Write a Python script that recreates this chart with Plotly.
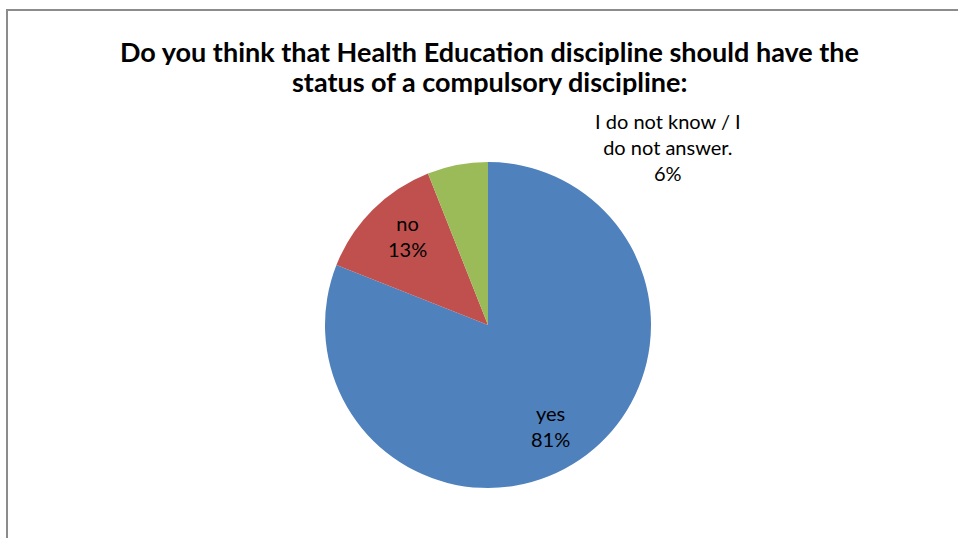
import plotly.graph_objects as go

labels = ["yes", "no", "I do not know / I do not answer."]
values = [81, 13, 6]
colors = ["#4F81BD", "#C0504D", "#9BBB59"]
title_lines = ["Do you think that Health Education discipline should have the",
               "status of a compulsory discipline:"]

W, H = 958, 538
cx, cy, r = 488, 325, 163

fig = go.Figure(go.Pie(
    labels=labels, values=values, sort=False, direction="clockwise", rotation=0,
    marker=dict(colors=colors, line=dict(width=0)), textinfo="none",
    hoverinfo="label+percent",
    domain=dict(x=[(cx - r) / W, (cx + r) / W], y=[(H - cy - r) / H, (H - cy + r) / H]),
    showlegend=False,
))

total = sum(values)
pct = [f"{round(v / total * 100)}%" for v in values]
label_text = [
    f"{labels[0]}<br>{pct[0]}",
    f"{labels[1]}<br>{pct[1]}",
    "I do not know / I<br>do not answer.<br>" + pct[2],
]
label_pos = [(550, 426), (407, 236), (668, 147)]
annotations = []
for t, (x, y) in zip(label_text, label_pos):
    annotations.append(dict(text=t, x=x / W, y=1 - y / H, xref="paper", yref="paper",
                            showarrow=False, xanchor="center", yanchor="middle",
                            font=dict(family="Lato, Carlito, sans-serif", size=20, color="#000")))
for line, y in zip(title_lines, [51, 81]):
    annotations.append(dict(text="<b>" + line + "</b>", height=28,
                            x=489 / W, y=1 - y / H, xref="paper", yref="paper", showarrow=False,
                            xanchor="center", yanchor="middle",
                            font=dict(family="Lato, Carlito, sans-serif", size=27, color="#000")))

fig.update_layout(
    width=W, height=H, margin=dict(l=0, r=0, t=0, b=0),
    paper_bgcolor="white", plot_bgcolor="white",
    annotations=annotations,
    shapes=[dict(type="rect", xref="paper", yref="paper",
                 x0=7 / W, y0=-0.1, x1=1.1, y1=1 - 10 / H,
                 line=dict(color="#8C8C8C", width=2))],
)
fig.write_html("out.html")
